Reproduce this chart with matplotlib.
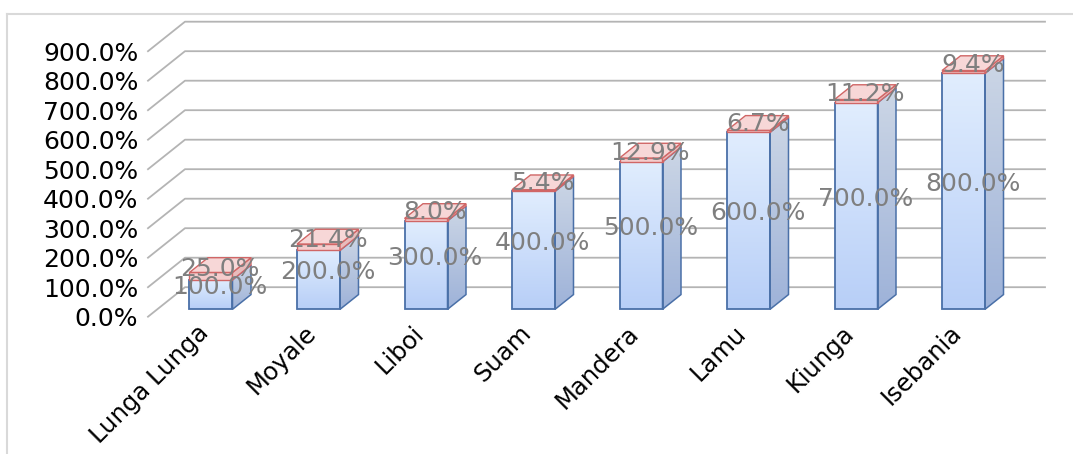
import numpy as np
import matplotlib
matplotlib.use("Agg")
import matplotlib.pyplot as plt
from matplotlib.patches import Polygon
from matplotlib.lines import Line2D

# crossing points and their two series (fractions, shown as %)
crossings = ["Lunga Lunga", "Moyale", "Liboi", "Suam", "Mandera", "Lamu", "Kiunga", "Isebania"]
base_vals = [1.0, 2.0, 3.0, 4.0, 5.0, 6.0, 7.0, 8.0]
top_vals = [0.25, 0.214, 0.08, 0.054, 0.129, 0.067, 0.112, 0.094]
y_ticks = [0, 1, 2, 3, 4, 5, 6, 7, 8, 9]

# oblique "3D" look: depth shifts x by DX categories and y by DY units
DX, DY = 0.344, 1.0
D0, D1 = 0.25, 0.75
W = 0.4

fig = plt.figure(figsize=(10.73, 4.54), dpi=100)
ax = fig.add_axes([148 / 1073, (454 - 316.7) / 454, (1045 - 148) / 1073, 295 / 454])

n = len(crossings)
for v in y_ticks:
    ax.plot([-0.5, -0.5 + DX, n - 0.5 + DX], [v, v + DY, v + DY],
            color="#b4b4b4", lw=1.3, zorder=1, clip_on=False)


def grad_fill(patch, x0, x1, y0, y1, c_top, c_bot, z):
    t = np.linspace(0, 1, 64)[:, None]
    img = np.array(c_bot)[None, :] * (1 - t) + np.array(c_top)[None, :] * t
    img = img[:, None, :]
    im = ax.imshow(img, extent=[x0, x1, y0, y1], origin="lower", aspect="auto",
                   zorder=z, interpolation="bilinear")
    im.set_clip_path(patch)


front_top, front_bot = (0.88, 0.93, 0.995), (0.72, 0.81, 0.97)
side_top, side_bot = (0.80, 0.84, 0.90), (0.62, 0.70, 0.85)
blue_edge = "#4a70a8"
pink_front, pink_top, pink_side, pink_edge = "#f4cccc", "#f7d7d7", "#e8bcbc", "#d06666"

for i, (v, p) in enumerate(zip(base_vals, top_vals)):
    xl = i - W / 2 + D0 * DX
    xr = i + W / 2 + D0 * DX
    y0 = D0 * DY
    ddx, ddy = (D1 - D0) * DX, (D1 - D0) * DY

    # blue front face
    bar = ax.bar(i + D0 * DX, v, width=W, bottom=y0, facecolor="none",
                 edgecolor=blue_edge, lw=1.3, zorder=4)[0]
    grad_fill(bar, xl, xr, y0, y0 + v, front_top, front_bot, 3)

    # blue side face
    side = Polygon([(xr, y0), (xr + ddx, y0 + ddy), (xr + ddx, y0 + ddy + v), (xr, y0 + v)],
                   closed=True, facecolor="none", edgecolor=blue_edge, lw=1.1, zorder=4)
    ax.add_patch(side)
    grad_fill(side, xr, xr + ddx, y0, y0 + ddy + v, side_top, side_bot, 3)

    # pink segment on top
    b = y0 + v
    ax.bar(i + D0 * DX, p, width=W, bottom=b, facecolor=pink_front,
           edgecolor=pink_edge, lw=1.0, zorder=5)
    ax.add_patch(Polygon([(xr, b), (xr + ddx, b + ddy), (xr + ddx, b + ddy + p), (xr, b + p)],
                         closed=True, facecolor=pink_side, edgecolor=pink_edge, lw=1.0, zorder=5))
    ax.add_patch(Polygon([(xl, b + p), (xr, b + p), (xr + ddx, b + p + ddy), (xl + ddx, b + p + ddy)],
                         closed=True, facecolor=pink_top, edgecolor=pink_edge, lw=1.0, zorder=5))

    # value labels at the middle of each block
    cx = i + 0.5 * DX
    ax.text(cx, v / 2 + 0.5 * DY, f"{v * 100:.1f}%", ha="center", va="center",
            color="#7f7f7f", fontsize=18, zorder=6)
    ax.text(cx, v + p / 2 + 0.5 * DY, f"{p * 100:.1f}%", ha="center", va="center",
            color="#7f7f7f", fontsize=18, zorder=6)

ax.set_xlim(-0.5, n - 0.5 + DX)
ax.set_ylim(0, 10)
for s in ax.spines.values():
    s.set_visible(False)

ax.set_yticks(y_ticks)
ax.set_yticklabels([f"{v * 100:.1f}%" for v in y_ticks])
ax.tick_params(axis="y", length=0, pad=7, labelsize=18)

ax.set_xticks([i - 0.05 for i in range(n)])
ax.set_xticklabels(crossings, rotation=45, ha="right", rotation_mode="anchor")
ax.tick_params(axis="x", length=0, pad=3, labelsize=17.5)

# chart area border
fig.add_artist(Line2D([7 / 1073, 7 / 1073], [0, 1 - 14 / 454], color="#d9d9d9", lw=1.5))
fig.add_artist(Line2D([7 / 1073, 1], [1 - 14 / 454, 1 - 14 / 454], color="#d9d9d9", lw=1.5))

fig.savefig("out.png", dpi=100)
